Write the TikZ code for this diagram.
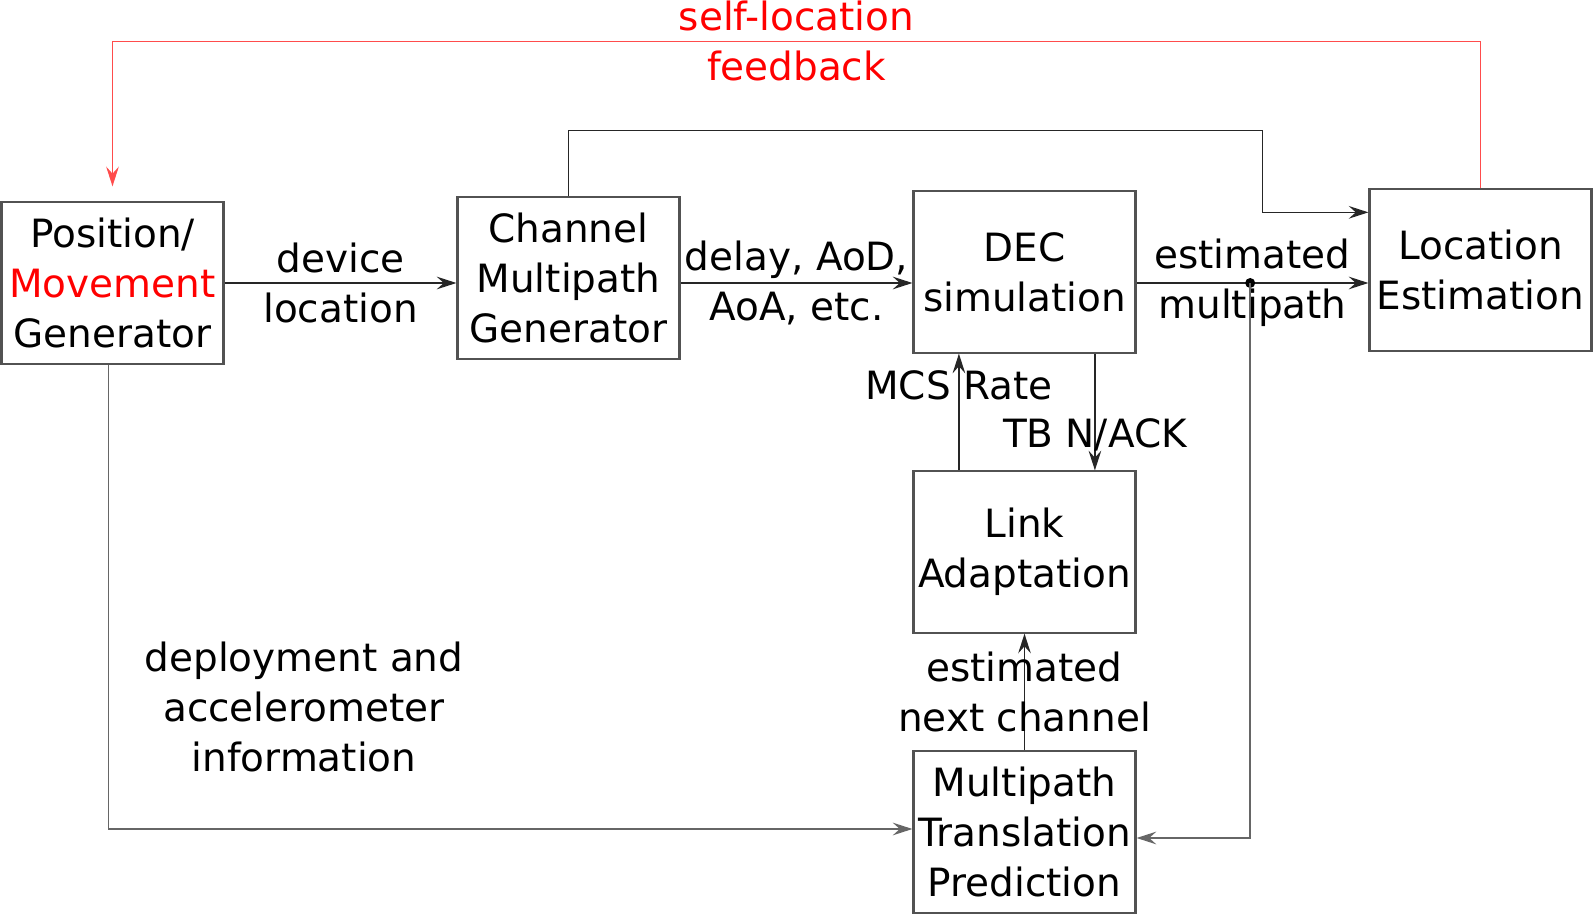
\documentclass[tikz,border=0pt]{standalone}
\usepackage{fontspec}
\setmainfont{DejaVu Sans}
\usepackage{xcolor}
\usepackage{tikz}
\usetikzlibrary{arrows.meta}

\begin{document}
\begin{tikzpicture}[node distance=7cm]
\tikzstyle{block} = [rectangle, minimum width=5.55cm, minimum height=4.03cm, inner sep=2pt, text centered, align=center, draw=black!68, line width=1.5pt, font=\fontsize{27.7}{35.6}\selectfont]
\tikzstyle{lbl} = [align=center, inner sep=0pt, font=\fontsize{27.7}{35.6}\selectfont]
\tikzstyle{arrow} = [line width=1pt, draw=black!85, -{Stealth[length=14pt, width=9pt, inset=5pt]}]
\tikzstyle{feedback} = [arrow, draw=red!70]

\useasboundingbox (0,0) rectangle (39.825,-22.875);

% Nodes
\node (pos) [block] at (2.8125,-7.075) {Position/\\\textcolor{red}{Movement}\\Generator};
\node (chan) [block, right of=pos, xshift=4.4cm, yshift=0.125cm] {Channel\\Multipath\\Generator};
\node (dec) [block, right of=chan, xshift=4.4cm, yshift=0.15cm] {DEC\\simulation};
\node (loc) [block, right of=dec, xshift=4.4cm, yshift=0.05cm] {Location\\Estimation};
\node (link) [block, below of=dec] {Link\\Adaptation};
\node (mtp) [block, below of=link] {Multipath\\Translation\\Prediction};
\node (deploy) [lbl] at (7.6,-17.68) {deployment and\\accelerometer\\information};

% Arrows
\draw [arrow] (pos) -- node[lbl] {device\\location} (chan.west |- pos);
\draw [arrow] (chan.east |- pos) -- node[lbl] {delay, AoD,\\AoA, etc.} (dec.west |- pos);
\draw [arrow] (dec.east |- pos) -- node[lbl] {estimated\\multipath} coordinate[pos=0.49] (split) (loc.west |- pos);
\fill [black] (split) circle (0.125cm);
\draw [arrow, draw=black!60] (split) |- ([yshift=-0.15cm]mtp.east);
\draw [arrow] (chan.north) -- ++(0,1.65) -| ([xshift=-2.65cm, yshift=-0.6cm]loc.north west) -- ([yshift=-0.6cm]loc.north west);
\draw [feedback] (loc.north) -- ++(0,3.675) -| node[lbl, pos=0.25, text=red] {self-location\\feedback} ([yshift=0.375cm]pos.north);
\draw [arrow] ([xshift=1.76cm]dec.south) -- node[lbl, pos=0.7] {TB N/ACK} ([xshift=1.76cm]link.north);
\draw [arrow] ([xshift=-1.64cm]link.north) -- node[lbl, pos=0.73] {MCS Rate} ([xshift=-1.64cm]dec.south);
\draw [arrow] (mtp) -- node[lbl, pos=0.5] {estimated\\next channel} (link);
\draw [arrow, draw=black!60] ([xshift=-0.1cm]pos.south) |- ([yshift=0.075cm]mtp.west);

\end{tikzpicture}
\end{document}
